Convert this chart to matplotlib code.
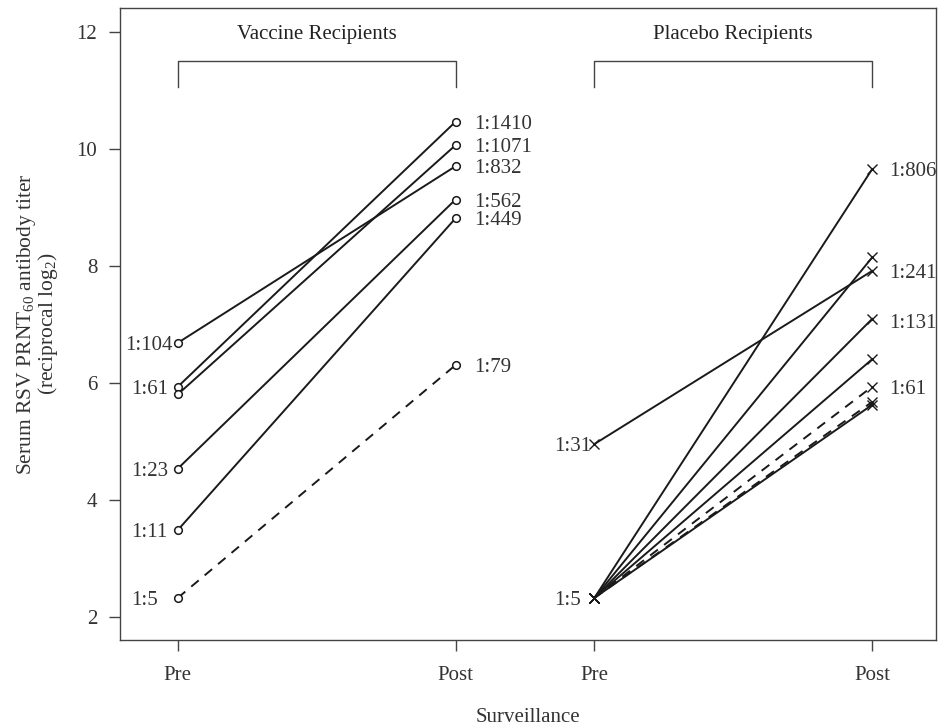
import matplotlib.pyplot as plt

plt.rcParams["font.family"] = ["Liberation Serif", "DejaVu Serif"]
plt.rcParams["mathtext.fontset"] = "custom"
plt.rcParams["mathtext.rm"] = "Liberation Serif"
plt.rcParams["mathtext.it"] = "Liberation Serif:italic"

# x positions of the four time points
x_pos = [1.0, 2.0, 2.5, 3.5]
x_ticklabels = ["Pre", "Post", "Pre", "Post"]

# vaccine recipients (reciprocal log2 titer)
vac_pre = [6.68, 5.93, 5.80, 4.53, 3.48, 2.32]
vac_post = [9.70, 10.46, 10.06, 9.13, 8.81, 6.30]
vac_dashed = [False, False, False, False, False, True]
vac_pre_labels = ["1:104", "1:61", "1:23", "1:11", "1:5"]
vac_pre_label_y = [6.68, 5.93, 4.53, 3.48, 2.32]
vac_post_labels = ["1:1410", "1:1071", "1:832", "1:562", "1:449", "1:79"]
vac_post_label_y = [10.46, 10.06, 9.70, 9.13, 8.81, 6.30]

# placebo recipients
plac_pre = [4.95, 2.32, 2.32, 2.32, 2.32, 2.32, 2.32, 2.32]
plac_post = [7.91, 9.65, 8.14, 7.09, 6.40, 5.93, 5.67, 5.62]
plac_dashed = [False, False, False, False, False, True, True, False]
plac_pre_labels = ["1:31", "1:5"]
plac_pre_label_y = [4.95, 2.32]
plac_post_labels = ["1:806", "1:241", "1:131", "1:61"]
plac_post_label_y = [9.65, 7.91, 7.05, 5.93]

ink = "#1a1a1a"
txt = "#333333"
fs = 15

fig = plt.figure(figsize=(9.5, 7.26), dpi=100)
ax = fig.add_axes([0.1258, 0.1185, 0.8595, 0.8701])

for a, b, d in zip(vac_pre, vac_post, vac_dashed):
    ax.plot([x_pos[0], x_pos[1]], [a, b], color=ink, lw=1.4,
            ls=(0, (5, 4)) if d else "-", marker="o", ms=5.5,
            mfc="white", mec=ink, mew=1.1, zorder=3)

for a, b, d in zip(plac_pre, plac_post, plac_dashed):
    ax.plot([x_pos[2], x_pos[3]], [a, b], color=ink, lw=1.4,
            ls=(0, (5, 4)) if d else "-", marker="x", ms=7.5,
            mec=ink, mew=1.0, zorder=3)

lab_kw = dict(ha="left", va="center_baseline", fontsize=fs, color=txt)
for lab, y in zip(vac_pre_labels, vac_pre_label_y):
    x0 = 0.812 if lab == "1:104" else 0.831
    ax.text(x0, y, lab, **lab_kw)
for lab, y in zip(vac_post_labels, vac_post_label_y):
    ax.text(2.066, y, lab, **lab_kw)
for lab, y in zip(plac_pre_labels, plac_pre_label_y):
    ax.text(2.355, y, lab, **lab_kw)
for lab, y in zip(plac_post_labels, plac_post_label_y):
    ax.text(3.561, y, lab, **lab_kw)

# group brackets and titles
for (x0, x1), title in [((x_pos[0], x_pos[1]), "Vaccine Recipients"),
                        ((x_pos[2], x_pos[3]), "Placebo Recipients")]:
    ax.plot([x0, x0, x1, x1], [11.05, 11.5, 11.5, 11.05], color="#444444", lw=1.0)
    ax.text((x0 + x1) / 2, 12.0, title, ha="center", va="center_baseline",
            fontsize=fs, color="#222222")

ax.set_xlim(0.79, 3.73)
ax.set_ylim(1.6, 12.4)
ax.set_xticks(x_pos)
ax.set_xticklabels(x_ticklabels)
ax.set_yticks([2, 4, 6, 8, 10, 12])
ax.tick_params(direction="out", length=8, width=1.0, color="#444444",
               labelsize=fs, labelcolor=txt, pad=8)
ax.tick_params(axis="x", pad=11)
for s in ax.spines.values():
    s.set_linewidth(1.0)
    s.set_color("#444444")

ax.set_xlabel("Surveillance", fontsize=fs, color=txt, labelpad=16)
ax.set_ylabel("Serum RSV PRNT$_{60}$ antibody titer\n(reciprocal log$_{2}$)",
              fontsize=15.5, color=txt, labelpad=12, linespacing=0.9)

fig.savefig("out.png", dpi=100)
